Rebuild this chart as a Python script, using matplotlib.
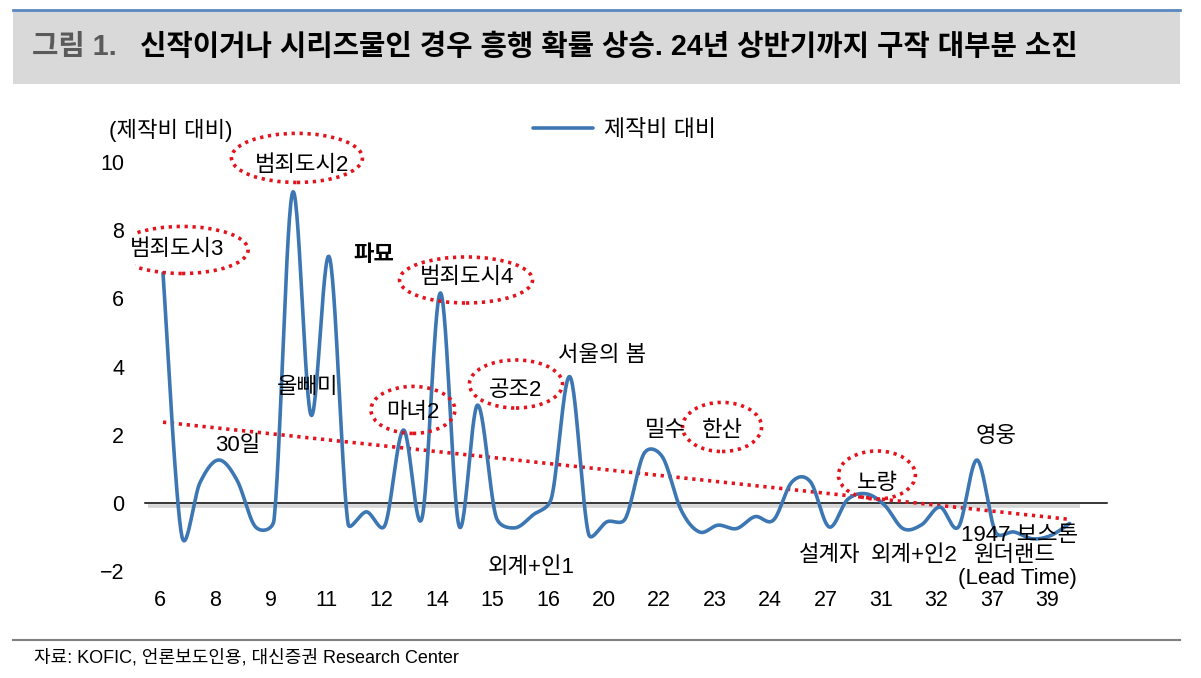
import numpy as np
import matplotlib

matplotlib.use("Agg")
import matplotlib.pyplot as plt
from matplotlib.patches import Ellipse, Rectangle
from matplotlib.lines import Line2D
from matplotlib.transforms import ScaledTranslation

plt.rcParams["font.family"] = ["Liberation Sans", "Noto Sans CJK KR"]
plt.rcParams["axes.unicode_minus"] = True

# lead time (every 3rd film labelled on the category axis)
tick_labels = ["6", "8", "9", "11", "12", "14", "15", "16", "20",
               "22", "23", "24", "27", "31", "32", "37", "39"]

# box office / production cost, one value per film
ratio = [6.74, -0.92, 0.60, 1.26, 0.67, -0.70, -0.50, 9.10, 2.58, 7.20,
         -0.60, -0.26, -0.65, 2.14, -0.44, 6.16, -0.67, 2.87, -0.40, -0.73,
         -0.35, 0.15, 3.70, -0.90, -0.55, -0.45, 1.45, 1.35, -0.20, -0.85,
         -0.65, -0.75, -0.40, -0.50, 0.62, 0.62, -0.70, 0.10, 0.27, -0.06,
         -0.75, -0.64, -0.12, -0.70, 1.26, -0.85, -0.85, -1.05, -0.95, -0.60]

# linear trend, first and last value
trend_ends = [2.37, -0.48]

# (text, x index, y value, circled?, bold?)
labels = [
    ("범죄도시3", 0.76, 7.42, True, False),
    ("범죄도시2", 7.51, 9.91, True, False),
    ("범죄도시4", 16.43, 6.60, True, False),
    ("마녀2", 13.51, 2.64, True, False),
    ("공조2", 19.08, 3.31, True, False),
    ("한산", 30.22, 2.14, True, False),
    ("노량", 38.59, 0.56, True, False),
    ("파묘", 11.41, 7.27, False, True),
    ("올빼미", 7.84, 3.40, False, False),
    ("30일", 4.05, 1.70, False, False),
    ("서울의 봄", 23.73, 4.34, False, False),
    ("외계+인1", 19.89, -1.88, False, False),
    ("밀수", 27.14, 2.14, False, False),
    ("영웅", 45.03, 1.94, False, False),
    ("1947 보스톤", 46.32, -0.96, False, False),
    ("설계자", 36.05, -1.55, False, False),
    ("외계+인2", 40.59, -1.55, False, False),
    ("원더랜드", 46.05, -1.55, False, False),
    ("(Lead Time)", 46.16, -2.20, False, False),
]
# ellipse centre / size for circled labels (x index, y, width, height)
circles = {
    "범죄도시3": (1.03, 7.42, 7.14, 1.38),
    "범죄도시2": (7.24, 10.12, 7.08, 1.44),
    "범죄도시4": (16.38, 6.54, 7.19, 1.35),
    "마녀2": (13.51, 2.73, 4.54, 1.38),
    "공조2": (19.08, 3.49, 5.03, 1.41),
    "한산": (30.22, 2.23, 4.27, 1.44),
    "노량": (38.59, 0.82, 4.16, 1.41),
}

BLUE = "#3c77b3"
RED = "#e3141d"
W, H = 1201, 678

# axes placed so that index 0 -> 163px, step 18.5px; y 0 -> 503px, 34.1px/unit
x0, dx, y0, dy = 163.0, 18.5, 503.0, 34.1


def smooth(y, n=30):
    # Excel style smoothed line, worked out in screen units: bezier with
    # control points at 1/6 of the neighbour chord, capped at half the segment
    pts = np.column_stack([np.arange(len(y)) * dx, np.asarray(y, float) * dy])
    p = np.vstack([pts[:1], pts, pts[-1:]])
    t = np.linspace(0, 1, n, endpoint=False)[:, None]
    out = []
    for i in range(len(y) - 1):
        p0, p1, p2, p3 = p[i:i + 4]
        d12 = np.hypot(*(p2 - p1))
        d02 = np.hypot(*(p2 - p0))
        d13 = np.hypot(*(p3 - p1))
        f0 = 1 / 6 if d02 / 6 < d12 / 2 else d12 / (2 * d02)
        f3 = 1 / 6 if d13 / 6 < d12 / 2 else d12 / (2 * d13)
        c1 = p1 + (p2 - p0) * f0
        c2 = p2 - (p3 - p1) * f3
        b = (1 - t) ** 3 * p1 + 3 * (1 - t) ** 2 * t * c1 + 3 * (1 - t) * t ** 2 * c2 + t ** 3 * p2
        out.append(b)
    out.append(pts[-1:])
    out = np.vstack(out)
    return out[:, 0] / dx, out[:, 1] / dy


fig = plt.figure(figsize=(W / 100, H / 100), dpi=100)

xlim = (-1.5, 52.0)
ylim = (-2.5, 11.0)
left = x0 + xlim[0] * dx
right = x0 + xlim[1] * dx
top = y0 - ylim[1] * dy
bottom = y0 - ylim[0] * dy
ax = fig.add_axes([left / W, 1 - bottom / H, (right - left) / W, (bottom - top) / H])
ax.set_xlim(*xlim)
ax.set_ylim(*ylim)
for s in ax.spines.values():
    s.set_visible(False)

n = len(ratio)
ax.plot([-0.81, n - 0.43], [-0.1, -0.1], color="#d6d6d6", lw=2.6, solid_capstyle="butt", zorder=1)
ax.plot([-0.97, 51.0], [0, 0], color="black", lw=1.1, zorder=2)

ax.plot([0, n - 1], trend_ends, color=RED, lw=2.6, ls=(0, (0.9, 1.3)), zorder=3)

sx, sy = smooth(ratio)
ax.plot(sx, sy, color=BLUE, lw=2.6, solid_capstyle="round", zorder=4, label="제작비 대비")

for text, x, y, circled, bold in labels:
    ax.text(x, y, text, ha="center", va="center", fontsize=16,
            fontweight="bold" if bold else "normal", zorder=5)
    if circled:
        cx, cy, w, h = circles[text]
        ax.add_patch(Ellipse((cx, cy), w, h, fill=False, edgecolor=RED,
                             lw=2.6, ls=(0, (0.9, 1.3)), zorder=5))

ax.set_yticks(np.arange(-2, 11, 2))
ax.set_yticklabels([f"{v:d}".replace("-", "\u2212") for v in range(-2, 11, 2)])
ax.set_xticks(np.arange(0, 3 * len(tick_labels), 3))
ax.set_xticklabels(tick_labels)
ax.tick_params(axis="both", length=0, labelsize=15.5)
ax.tick_params(axis="y", pad=8)
ax.tick_params(axis="x", pad=1)
shift = ScaledTranslation(-3.5 / 100, 0, fig.dpi_scale_trans)
for lab in ax.get_xticklabels():
    lab.set_transform(lab.get_transform() + shift)

ax.legend(loc="center left", bbox_to_anchor=(533 / W, 1 - 130 / H),
          bbox_transform=fig.transFigure, frameon=False, fontsize=16.5,
          handlelength=2.6, handletextpad=0.5, borderpad=0, borderaxespad=0)

fig.text(171 / W, 1 - 130 / H, "(제작비 대비)", ha="center", va="center", fontsize=16)

# title band
fig.patches.append(Rectangle((13 / W, 1 - 84 / H), (1180 - 13) / W, (84 - 10) / H,
                             transform=fig.transFigure, facecolor="#d9d9d9",
                             edgecolor="none", zorder=0))
fig.lines.append(Line2D([13 / W, 1180 / W], [1 - 10 / H, 1 - 10 / H],
                        transform=fig.transFigure, color="#5b87c0", lw=2))
fig.text(32 / W, 1 - 47 / H, "그림 1.", ha="left", va="center", fontsize=20.7,
         fontweight="bold", color="#5a5a5a")
fig.text(140 / W, 1 - 47 / H, "신작이거나 시리즈물인 경우 흥행 확률 상승. 24년 상반기까지 구작 대부분 소진",
         ha="left", va="center", fontsize=20.7, fontweight="bold", color="black")

# source
fig.lines.append(Line2D([13 / W, 1180 / W], [1 - 640 / H, 1 - 640 / H],
                        transform=fig.transFigure, color="#808080", lw=1.5))
fig.text(34 / W, 1 - 658 / H, "자료: KOFIC, 언론보도인용, 대신증권 Research Center",
         ha="left", va="center", fontsize=13)

fig.savefig("out.png", dpi=100)
